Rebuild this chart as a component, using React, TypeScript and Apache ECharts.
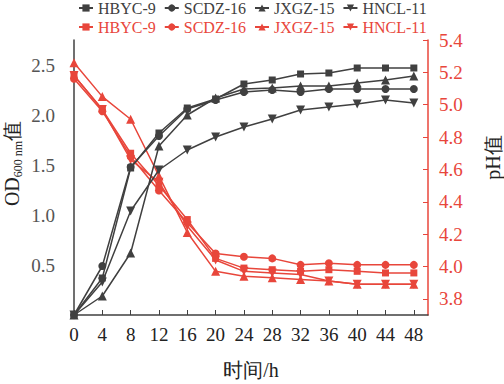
import React, { useEffect, useRef } from "react";
import * as echarts from "echarts";

const times = [0, 4, 8, 12, 16, 20, 24, 28, 32, 36, 40, 44, 48];
const xTickLabels = ["0", "4", "8", "12", "16", "20", "24", "28", "32", "36", "40", "44", "48"];
const odTicks = [0.5, 1.0, 1.5, 2.0, 2.5];
const phTicks = [3.8, 4.0, 4.2, 4.4, 4.6, 4.8, 5.0, 5.2, 5.4];
const strains = ["HBYC-9", "SCDZ-16", "JXGZ-15", "HNCL-11"];

// OD600nm values
const odHBYC9 = [0, 0.37, 1.47, 1.82, 2.07, 2.16, 2.31, 2.35, 2.41, 2.42, 2.47, 2.47, 2.47];
const odSCDZ16 = [0, 0.49, 1.48, 1.79, 2.06, 2.15, 2.23, 2.25, 2.23, 2.26, 2.26, 2.26, 2.26];
const odJXGZ15 = [0, 0.19, 0.62, 1.69, 2.0, 2.17, 2.26, 2.27, 2.29, 2.29, 2.32, 2.35, 2.39];
const odHNCL11 = [0, 0.33, 1.04, 1.45, 1.65, 1.78, 1.88, 1.96, 2.05, 2.08, 2.11, 2.15, 2.12];

// pH values
const phHBYC9 = [5.18, 4.97, 4.7, 4.5, 4.29, 4.05, 3.99, 3.98, 3.97, 3.98, 3.97, 3.96, 3.96];
const phSCDZ16 = [5.16, 4.96, 4.68, 4.47, 4.27, 4.08, 4.06, 4.05, 4.01, 4.02, 4.01, 4.01, 4.01];
const phJXGZ15 = [5.26, 5.05, 4.91, 4.56, 4.21, 3.97, 3.94, 3.93, 3.92, 3.91, 3.89, 3.89, 3.89];
const phHNCL11 = [5.18, 4.97, 4.66, 4.52, 4.25, 4.04, 3.97, 3.96, 3.95, 3.91, 3.89, 3.89, 3.89];

const GRAY = "#404040";
const RED = "#e8463b";
const SERIF = "Liberation Serif";
const INV_TRI = "path://M0,0 L10,0 L5,9 Z";
const symbols = ["rect", "circle", "triangle", INV_TRI];
const symbolSizes = [7, 8, 9, 9];

export default function App() {
  const ref = useRef<HTMLDivElement>(null);
  useEffect(() => {
    if (!ref.current) return;
    const chart = echarts.init(ref.current, null, { renderer: "svg" });
    const odData = [odHBYC9, odSCDZ16, odJXGZ15, odHNCL11];
    const phData = [phHBYC9, phSCDZ16, phJXGZ15, phHNCL11];
    const series: any[] = [];
    strains.forEach((name, i) => {
      series.push({
        name,
        type: "line",
        xAxisIndex: 0,
        yAxisIndex: 0,
        symbol: symbols[i],
        symbolSize: symbolSizes[i],
        lineStyle: { color: GRAY, width: 1.5 },
        itemStyle: { color: GRAY },
        data: times.map((t, k) => [t, odData[i][k]]),
        z: 3,
      });
    });
    strains.forEach((name, i) => {
      series.push({
        name: "pH-" + name,
        type: "line",
        xAxisIndex: 0,
        yAxisIndex: 1,
        symbol: symbols[i],
        symbolSize: symbolSizes[i],
        lineStyle: { color: RED, width: 1.5 },
        itemStyle: { color: RED },
        data: times.map((t, k) => [t, phData[i][k]]),
        z: 2,
      });
    });
    chart.setOption({
      animation: false,
      grid: { left: 74, right: 76, top: 40, bottom: 69, outerBoundsMode: "none", containLabel: false },
      legend: [
        {
          data: strains,
          left: 78,
          top: 0,
          padding: 0,
          itemWidth: 14,
          itemHeight: 9,
          itemGap: 8,
          textStyle: { fontFamily: SERIF, fontSize: 16, color: GRAY },
        },
        {
          data: strains.map((s) => "pH-" + s),
          left: 78,
          top: 19,
          padding: 0,
          itemWidth: 14,
          itemHeight: 9,
          itemGap: 8,
          formatter: (n: string) => n.replace(/^pH-/, ""),
          textStyle: { fontFamily: SERIF, fontSize: 16, color: RED },
        },
      ],
      xAxis: {
        type: "value",
        min: 0,
        max: 50,
        name: "时间/h",
        nameLocation: "middle",
        nameGap: 45,
        nameMoveOverlap: false,
        nameTextStyle: { fontFamily: SERIF, fontSize: 20, color: "#222" },
        axisLine: { lineStyle: { color: GRAY, width: 1.5 } },
        axisTick: { inside: true, length: 5, lineStyle: { color: GRAY }, customValues: times },
        axisLabel: {
          fontFamily: SERIF,
          fontSize: 19,
          color: "#222",
          margin: 10,
          customValues: times,
          formatter: (v: number) => {
            const i = times.indexOf(v);
            return i >= 0 ? xTickLabels[i] : "";
          },
        },
        splitLine: { show: false },
      },
      yAxis: [
        {
          type: "value",
          position: "left",
          min: 0,
          max: 2.75,
          name: "{a|OD}{b|600 nm}{a|值}",
          nameLocation: "middle",
          nameRotate: 90,
          nameGap: 52,
          nameMoveOverlap: false,
          nameTextStyle: {
            padding: [0, 0, 0, 28],
            lineHeight: 21,
            rich: {
              a: { fontFamily: SERIF, fontSize: 20, color: "#222", lineHeight: 21 },
              b: { fontFamily: SERIF, fontSize: 12, color: "#222", verticalAlign: "bottom", lineHeight: 14, padding: [0, 0, -2, 0] },
            },
          },
          axisLine: { show: true, lineStyle: { color: GRAY, width: 1.5 } },
          axisTick: { show: false },
          axisLabel: {
            fontFamily: SERIF,
            fontSize: 19,
            color: "#555",
            margin: 19,
            customValues: odTicks,
            formatter: (v: number) => v.toFixed(1),
          },
          splitLine: { show: false },
        },
        {
          type: "value",
          position: "right",
          min: 3.7,
          max: 5.4,
          name: "pH值",
          nameLocation: "middle",
          nameRotate: 90,
          nameGap: 55,
          nameMoveOverlap: false,
          nameTextStyle: { fontFamily: SERIF, fontSize: 20, color: "#222", padding: [0, 0, 0, 40] },
          axisLine: { show: true, lineStyle: { color: RED, width: 1.5 } },
          axisTick: { inside: true, length: 5, lineStyle: { color: RED }, customValues: phTicks },
          axisLabel: {
            fontFamily: SERIF,
            fontSize: 19,
            color: RED,
            margin: 11,
            customValues: phTicks,
            formatter: (v: number) => v.toFixed(1),
          },
          splitLine: { show: false },
        },
      ],
      series,
    });
    return () => chart.dispose();
  }, []);
  return <div ref={ref} style={{ width: 504, height: 384, position: "absolute", left: 0, top: 0 }} />;
}
